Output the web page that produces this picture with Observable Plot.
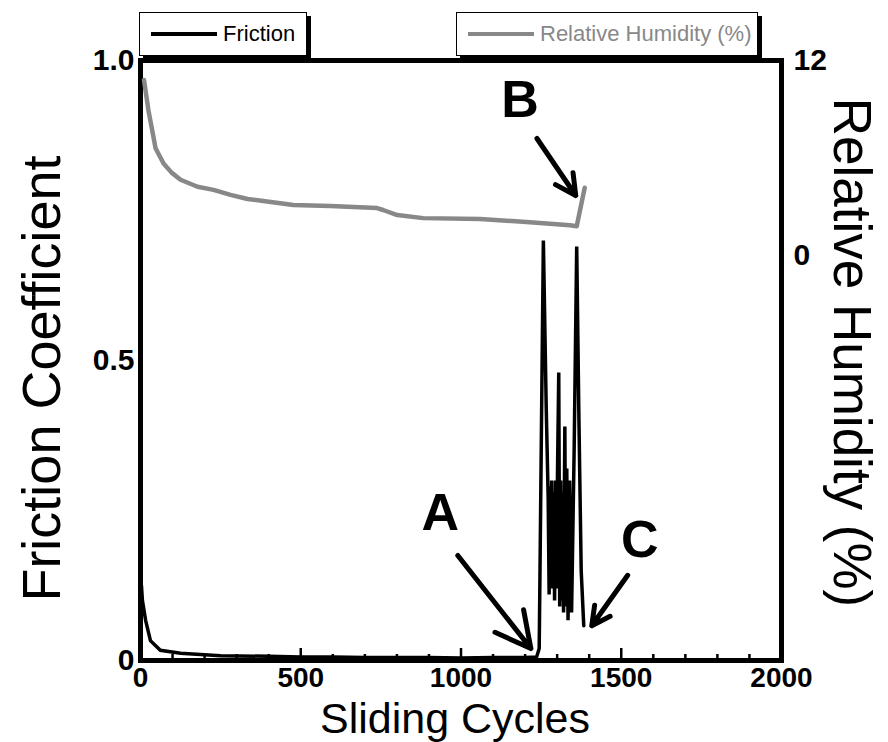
<!DOCTYPE html>
<html><head><meta charset="utf-8">
<script src="https://cdn.jsdelivr.net/npm/d3@7"></script>
<script src="https://cdn.jsdelivr.net/npm/@observablehq/plot@0.6"></script>
<style>
body{margin:0;background:#fff;}
#fig{position:relative;width:888px;height:742px;font-family:"Liberation Sans",Arial,Helvetica,sans-serif;overflow:hidden;background:#fff;}
#fig svg{position:absolute;left:0;top:0;}
.leg{position:absolute;top:12px;height:44px;background:#fff;border:1.5px solid #000;box-shadow:4px 4px 0 #000;box-sizing:border-box;z-index:5;}
.leg .sw{position:absolute;top:19px;height:3.5px;}
.leg .tx{position:absolute;top:9px;font-size:22px;line-height:24px;white-space:nowrap;}
</style></head>
<body><div id="fig"></div>
<script>
// ---- data ----
const frictionCycles = [3, 6, 16, 31, 62, 125, 250, 400, 500, 600, 700, 800, 900, 1000, 1100, 1200, 1236, 1244, 1257, 1266, 1272, 1275, 1278, 1280, 1283, 1286, 1289, 1292, 1295, 1298, 1301, 1305, 1308, 1311, 1314, 1317, 1320, 1324, 1327, 1330, 1334, 1339, 1345, 1353, 1361, 1368, 1375, 1383];
const frictionValues = [0.125, 0.10, 0.067, 0.033, 0.017, 0.012, 0.008, 0.007, 0.006, 0.006, 0.005, 0.005, 0.005, 0.004, 0.005, 0.005, 0.006, 0.02, 0.70, 0.42, 0.27, 0.11, 0.29, 0.15, 0.30, 0.12, 0.28, 0.10, 0.30, 0.12, 0.31, 0.48, 0.09, 0.30, 0.10, 0.28, 0.08, 0.39, 0.09, 0.32, 0.067, 0.30, 0.08, 0.35, 0.69, 0.40, 0.15, 0.058];
const humidityCycles = [11, 25, 37, 47, 72, 97, 125, 178, 228, 281, 334, 383, 477, 592, 738, 757, 801, 882, 1060, 1215, 1340, 1361, 1386];
const humidityValues = [10.8, 8.9, 7.65, 6.6, 5.66, 5.1, 4.66, 4.23, 4.04, 3.73, 3.48, 3.36, 3.11, 3.05, 2.92, 2.80, 2.49, 2.30, 2.24, 2.05, 1.86, 1.80, 4.17];
const xTicks = [0, 500, 1000, 1500, 2000];
const xMinorTicks = [100, 200, 300, 400, 600, 700, 800, 900, 1100, 1200, 1300, 1400, 1600, 1700, 1800, 1900];
const frictionTicks = [0, 0.5, 1];
const humidityTicks = [0, 12];
const seriesNames = ["Friction", "Relative Humidity (%)"];
const seriesColors = ["#000000", "#888888"];
// annotations (label position and arrow from/to, in data units)
const annotationLabels = ["A", "B", "C"];
const annotationLabelX = [935, 1184, 1558];
const annotationLabelY = [0.245, 0.933, 0.20];
const arrowFromX = [990, 1237, 1520];
const arrowFromY = [0.175, 0.87, 0.142];
const arrowToX = [1218, 1358, 1408];
const arrowToY = [0.02, 0.775, 0.058];

// ---- layout ----
const W = 888, H = 742;
const mL = 140, mR = 888 - 781, mT = 60, mB = 742 - 660;
const plotH = H - mT - mB;
const FONT = "Liberation Sans, Arial, Helvetica, sans-serif";

const friction = frictionCycles.map((c, i) => ({c, v: frictionValues[i]}));
const humidity = humidityCycles.map((c, i) => ({c, v: humidityValues[i]}));
const ann = annotationLabels.map((t, i) => ({t, x: annotationLabelX[i], y: annotationLabelY[i],
  x1: arrowFromX[i], y1: arrowFromY[i], x2: arrowToX[i], y2: arrowToY[i]}));

const p1 = Plot.plot({
  width: W, height: H, marginLeft: mL, marginRight: mR, marginTop: mT, marginBottom: mB,
  style: {fontFamily: FONT, background: "transparent", overflow: "visible"},
  x: {domain: [0, 2000]},
  y: {domain: [0, 1]},
  marks: [
    Plot.line(friction, {x: "c", y: "v", stroke: seriesColors[0], strokeWidth: 3.5, strokeLinejoin: "miter", strokeMiterlimit: 3}),
    Plot.ruleX(xMinorTicks, {x: d => d, insetTop: plotH - 6, stroke: "#000", strokeWidth: 2.5}),
    Plot.ruleX(xTicks, {x: d => d, insetTop: plotH - 12, stroke: "#000", strokeWidth: 2.5}),
    Plot.axisX({ticks: xTicks, tickSize: 0, tickPadding: 7, fontSize: 28, fontWeight: "bold", fill: "#000", label: null,
      tickFormat: d => String(d)}),
    Plot.axisY({ticks: frictionTicks, tickSize: 0, tickPadding: 6, fontSize: 30, fontWeight: "bold", fill: "#000", label: null,
      tickFormat: d => d === 0 ? "0" : d.toFixed(1)}),
    Plot.frame({stroke: "#000", strokeWidth: 5}),
    Plot.text(["Friction Coefficient"], {frameAnchor: "left", textAnchor: "middle", lineAnchor: "middle", rotate: -90, dx: -98, dy: 18, fontSize: 54, fill: "#000"}),
    Plot.text(["Sliding Cycles"], {frameAnchor: "bottom", textAnchor: "middle", lineAnchor: "middle", dx: -6, dy: 59, fontSize: 43, fill: "#000"}),
    Plot.arrow(ann, {x1: "x1", y1: "y1", x2: "x2", y2: "y2", stroke: "#000", strokeWidth: 5, headLength: 18, headAngle: 55}),
    Plot.text(ann, {x: "x", y: "y", text: "t", fontSize: 52, fontWeight: "bold", fill: "#000"})
  ]
});

const p2 = Plot.plot({
  width: W, height: H, marginLeft: mL, marginRight: mR, marginTop: mT, marginBottom: mB,
  style: {fontFamily: FONT, background: "transparent", overflow: "visible"},
  x: {domain: [0, 2000], axis: null},
  y: {domain: [0, 12], range: [255, mT], axis: null},
  marks: [
    Plot.line(humidity, {x: "c", y: "v", stroke: seriesColors[1], strokeWidth: 4.5, strokeLinejoin: "round"}),
    Plot.axisY({anchor: "right", ticks: humidityTicks, tickSize: 0, tickPadding: 12, fontSize: 30, fontWeight: "bold", fill: "#000", label: null}),
    Plot.text(["Relative Humidity (%)"], {frameAnchor: "right", textAnchor: "middle", lineAnchor: "middle", rotate: 90, dx: 69, dy: -8, fontSize: 53, fill: "#000"})
  ]
});

const fig = document.getElementById("fig");
fig.appendChild(p1);
fig.appendChild(p2);

// legend boxes
const legendBoxes = [
  {left: 139, width: 168, sw: [11, 66], tx: 83},
  {left: 456, width: 302, sw: [11, 66], tx: 83}
];
seriesNames.forEach((name, i) => {
  const b = legendBoxes[i];
  const d = document.createElement("div");
  d.className = "leg";
  d.style.left = b.left + "px";
  d.style.width = b.width + "px";
  const s = document.createElement("div");
  s.className = "sw";
  s.style.left = b.sw[0] + "px";
  s.style.width = b.sw[1] + "px";
  s.style.background = seriesColors[i];
  const t = document.createElement("div");
  t.className = "tx";
  t.style.left = b.tx + "px";
  t.style.color = seriesColors[i];
  t.textContent = name;
  d.appendChild(s); d.appendChild(t);
  fig.appendChild(d);
});
</script></body></html>
